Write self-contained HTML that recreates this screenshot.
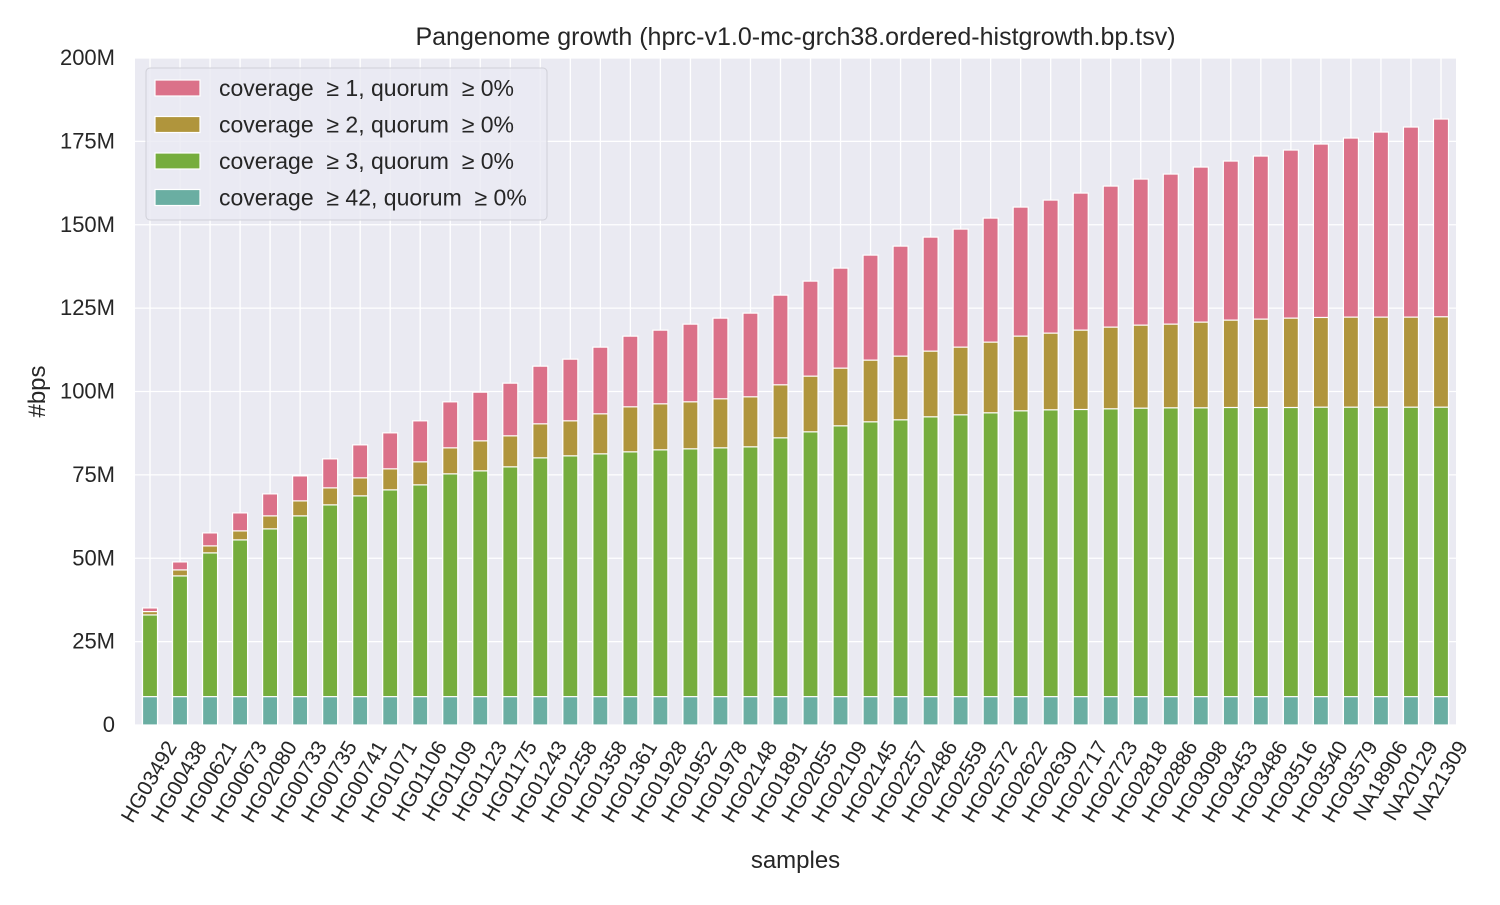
<!DOCTYPE html>
<html><head><meta charset="utf-8"><style>
body{margin:0;background:#fff;font-family:"Liberation Sans","DejaVu Sans",sans-serif}
</style></head><body>
<svg id="chart" width="1500" height="900" xmlns="http://www.w3.org/2000/svg" font-family="'Liberation Sans','DejaVu Sans',sans-serif"></svg>
<script>
const samples=["HG03492","HG00438","HG00621","HG00673","HG02080","HG00733","HG00735","HG00741","HG01071","HG01106","HG01109","HG01123","HG01175","HG01243","HG01258","HG01358","HG01361","HG01928","HG01952","HG01978","HG02148","HG01891","HG02055","HG02109","HG02145","HG02257","HG02486","HG02559","HG02572","HG02622","HG02630","HG02717","HG02723","HG02818","HG02886","HG03098","HG03453","HG03486","HG03516","HG03540","HG03579","NA18906","NA20129","NA21309"];
const cov1=[35.1,48.9,57.6,63.6,69.3,74.7,79.8,84,87.6,91.2,96.9,99.8,102.5,107.6,109.7,113.3,116.6,118.4,120.2,122,123.5,128.9,133.1,137,140.9,143.6,146.3,148.7,152,155.3,157.4,159.5,161.6,163.7,165.2,167.3,169.1,170.6,172.4,174.2,176,177.8,179.3,181.7];
const cov2=[34,46.5,53.7,58.2,62.7,67.2,71.1,74.1,76.8,78.9,83.1,85.2,86.7,90.3,91.2,93.3,95.4,96.3,96.9,97.8,98.4,102,104.6,107,109.4,110.6,112.1,113.3,114.8,116.6,117.5,118.4,119.3,119.9,120.2,120.8,121.4,121.7,122,122.2,122.3,122.3,122.3,122.4];
const cov3=[33,44.7,51.6,55.5,58.8,62.7,66,68.7,70.5,72,75.3,76.2,77.4,80.1,80.7,81.3,81.9,82.5,82.8,83.1,83.4,86.1,87.9,89.7,90.9,91.5,92.4,93,93.6,94.2,94.5,94.6,94.8,95,95.1,95.1,95.2,95.2,95.2,95.3,95.3,95.3,95.3,95.3];
const cov42=[8.5,8.5,8.5,8.5,8.5,8.5,8.5,8.5,8.5,8.5,8.5,8.5,8.5,8.5,8.5,8.5,8.5,8.5,8.5,8.5,8.5,8.5,8.5,8.5,8.5,8.5,8.5,8.5,8.5,8.5,8.5,8.5,8.5,8.5,8.5,8.5,8.5,8.5,8.5,8.5,8.5,8.5,8.5,8.5];
const yTicks=[0,25,50,75,100,125,150,175,200];
const yTickLabels=["0","25M","50M","75M","100M","125M","150M","175M","200M"];
const seriesLabels=["coverage  \u2265 1, quorum  \u2265 0%","coverage  \u2265 2, quorum  \u2265 0%","coverage  \u2265 3, quorum  \u2265 0%","coverage  \u2265 42, quorum  \u2265 0%"];
const colors=["#db7189","#b0953c","#76ad3d","#6aaea2"];

const svg=document.getElementById('chart');const NS="http://www.w3.org/2000/svg";
const L=135,R=1456,T=58,B=725;
const step=(R-L)/samples.length;
const xs=i=>L+step*(i+0.5);
const ys=v=>B-(v/200)*(B-T);
function mk(tag,attrs,parent){const e=document.createElementNS(NS,tag);for(const k in attrs)e.setAttribute(k,attrs[k]);(parent||svg).appendChild(e);return e;}
const bg=mk('rect',{x:L,y:T,width:R-L,height:B-T,fill:'#eaeaf2'});


const grid=mk('g',{});


yTicks.forEach((t,i)=>{
  mk('line',{x1:L,x2:R,y1:ys(t),y2:ys(t),stroke:'#fff','stroke-width':1.3},grid);
  const tx=mk('text',{x:L-20,y:ys(t)+7,'text-anchor':'end','font-size':22,fill:'#262626'});
  tx.textContent=yTickLabels[i];
  
  
});
samples.forEach((s,i)=>{
  mk('line',{x1:xs(i),x2:xs(i),y1:T,y2:B,stroke:'#fff','stroke-width':1.3},grid);
  const x=xs(i)+15,y=B+14;
  const tx=mk('text',{x:x,y:y,'text-anchor':'end','font-size':21,fill:'#262626',transform:`rotate(-60 ${x} ${y})`,'dominant-baseline':'hanging'});
  tx.textContent=s;
  
  
});
const series=[cov1,cov2,cov3,cov42];
const bw=step*0.5;
series.forEach((arr,si)=>{
  const g=mk('g',{});
  
  
  arr.forEach((v,i)=>{
    const r=mk('rect',{x:xs(i)-bw/2,y:ys(v),width:bw,height:B-ys(v),fill:colors[si],stroke:'#fff','stroke-width':1.2},g);
    
    
  });
});
const title=mk('text',{x:(L+R)/2,y:45,'text-anchor':'middle','font-size':25,fill:'#262626'});
title.textContent="Pangenome growth (hprc-v1.0-mc-grch38.ordered-histgrowth.bp.tsv)";


const xt=mk('text',{x:(L+R)/2,y:868,'text-anchor':'middle','font-size':24,fill:'#262626'});
xt.textContent="samples";


const yt=mk('text',{x:45,y:(T+B)/2,'text-anchor':'middle','font-size':24,fill:'#262626',transform:`rotate(-90 45 ${(T+B)/2})`});
yt.textContent="#bps";


const lg=mk('g',{});


mk('rect',{x:146,y:68,width:401,height:152,rx:4,fill:'#eaeaf2','fill-opacity':0.8,stroke:'#d0d0d8'},lg);
seriesLabels.forEach((lab,i)=>{
  const y=88+i*36.5;
  const e=mk('g',{},lg);
  
  
  mk('rect',{x:155,y:y-8,width:45,height:16,fill:colors[i],stroke:'#fff','stroke-width':1.2},e);
  const t=mk('text',{x:219,y:y+8,'font-size':23,fill:'#262626','xml:space':'preserve',style:'white-space:pre'},e);
  t.textContent=lab;
});
</script>
</body></html>
